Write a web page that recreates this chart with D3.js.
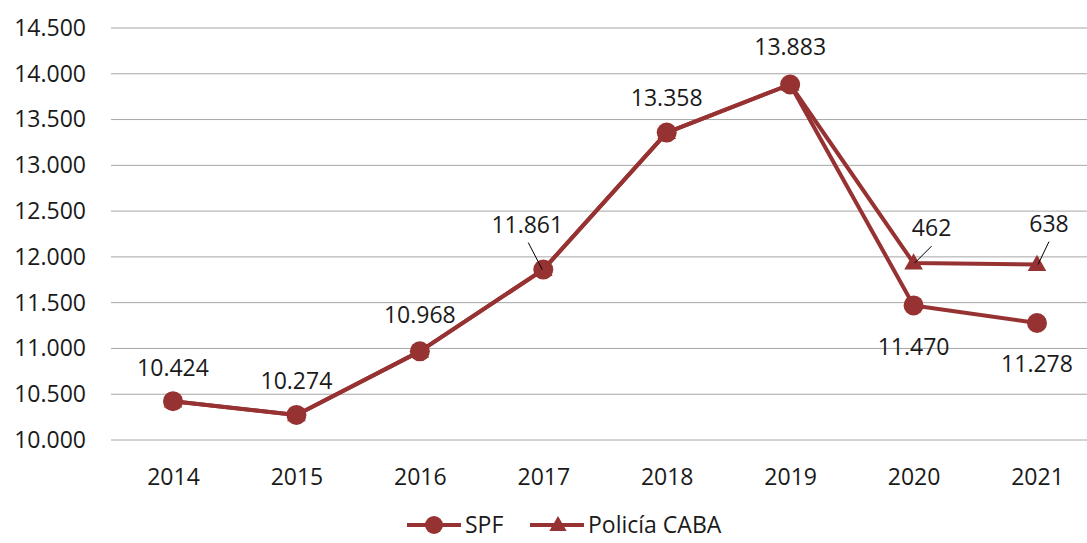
<!DOCTYPE html>
<html>
<head>
<meta charset="utf-8">
<script src="https://cdn.jsdelivr.net/npm/d3@7"></script>
<style>
  body { margin: 0; background: #fff; }
  svg { display: block; font-family: "Open Sans", sans-serif; }
</style>
</head>
<body>
<svg id="chart" width="1087" height="543"></svg>
<script>
// data
const years = ["2014", "2015", "2016", "2017", "2018", "2019", "2020", "2021"];
const spf = [10424, 10274, 10968, 11861, 13358, 13883, 11470, 11278];
const caba = [0, 0, 0, 0, 0, 0, 462, 638];
const yTicks = [10000, 10500, 11000, 11500, 12000, 12500, 13000, 13500, 14000, 14500];
const seriesNames = ["SPF", "Policía CABA"];

const color = "#973232";
const fontSize = 23;

let svg = d3.select("#chart");

let x = d3.scalePoint().domain(years).range([173, 1037]);
let y = d3.scaleLinear().domain([10000, 14500]).range([440, 28]);

let fmt = v => d3.format(",")(v).replace(/,/g, ".");

// gridlines
svg.append("g").selectAll("line")
    .data(yTicks)
    .join("line")
    .attr("x1", 111).attr("x2", 1087)
    .attr("y1", d => y(d)).attr("y2", d => y(d))
    .attr("stroke", "#a6a6a6")
    .attr("stroke-width", 1);

// y axis labels
let yAxis = d3.axisLeft(y).tickValues(yTicks).tickFormat(fmt).tickSize(0).tickPadding(0);
let gy = svg.append("g").attr("transform", "translate(86,0)").call(yAxis);
gy.select(".domain").remove();
gy.selectAll("text").attr("font-size", fontSize).attr("font-family", "Open Sans").attr("fill", "#1a1a1a");

// x axis labels
let xAxis = d3.axisBottom(x).tickSize(0).tickPadding(0);
let gx = svg.append("g").attr("transform", "translate(0,469)").call(xAxis);
gx.select(".domain").remove();
gx.selectAll("text").attr("font-size", fontSize).attr("font-family", "Open Sans").attr("fill", "#1a1a1a");

// stacked total for CABA
let total = spf.map((v, i) => v + caba[i]);

let line = d3.line().x((d, i) => x(years[i])).y(d => y(d));

svg.append("path").datum(total)
    .attr("d", line).attr("fill", "none")
    .attr("stroke", color).attr("stroke-width", 4).attr("stroke-linejoin", "round");

svg.append("g").selectAll("path")
    .data(total)
    .join("path")
    .attr("d", d3.symbol(d3.symbolTriangle, 150))
    .attr("transform", (d, i) => `translate(${x(years[i])},${y(d) + 1})`)
    .attr("fill", color);

svg.append("path").datum(spf)
    .attr("d", line).attr("fill", "none")
    .attr("stroke", color).attr("stroke-width", 4).attr("stroke-linejoin", "round");

svg.append("g").selectAll("circle")
    .data(spf)
    .join("circle")
    .attr("cx", (d, i) => x(years[i]))
    .attr("cy", d => y(d))
    .attr("r", 10)
    .attr("fill", color);

// data labels
const spfDx = [0, 0, 0, -16, 0, 0, 0, 0];
const spfDy = [-25, -26, -28, -37, -27, -29, 50, 49];
svg.append("g").selectAll("text")
    .data(spf)
    .join("text")
    .attr("x", (d, i) => x(years[i]) + spfDx[i])
    .attr("y", (d, i) => y(d) + spfDy[i])
    .attr("text-anchor", "middle")
    .attr("font-size", fontSize)
    .attr("fill", "#1a1a1a")
    .text(d => fmt(d));

// leader for 2017
let i17 = 3;
svg.append("line")
    .attr("x1", x(years[i17]) - 15).attr("y1", y(spf[i17]) - 27)
    .attr("x2", x(years[i17]) - 1).attr("y2", y(spf[i17]))
    .attr("stroke", "#000").attr("stroke-width", 1);

// CABA labels
const cabaDx = [0, 0, 0, 0, 0, 0, 18, 12];
const cabaDy = [0, 0, 0, 0, 0, 0, -27, -33];
let lblIdx = [6, 7];
svg.append("g").selectAll("text")
    .data(lblIdx)
    .join("text")
    .attr("x", i => x(years[i]) + cabaDx[i])
    .attr("y", i => y(total[i]) + cabaDy[i])
    .attr("text-anchor", "middle")
    .attr("font-size", fontSize)
    .attr("fill", "#1a1a1a")
    .text(i => fmt(caba[i]));

svg.append("g").selectAll("line")
    .data(lblIdx)
    .join("line")
    .attr("x1", i => x(years[i]) + cabaDx[i])
    .attr("y1", i => y(total[i]) + cabaDy[i] + 10)
    .attr("x2", i => x(years[i]) + 1)
    .attr("y2", i => y(total[i]))
    .attr("stroke", "#000").attr("stroke-width", 1);

// legend
let legend = svg.append("g").attr("transform", "translate(0,525)");
let lx = [407, 530];
seriesNames.forEach((name, k) => {
    let g = legend.append("g").attr("transform", `translate(${lx[k]},0)`);
    g.append("line").attr("x1", 0).attr("x2", 54).attr("y1", 0).attr("y2", 0)
        .attr("stroke", color).attr("stroke-width", 4);
    if (k === 0) {
        g.append("circle").attr("cx", 27).attr("cy", 0).attr("r", 9).attr("fill", color);
    } else {
        g.append("path").attr("d", d3.symbol(d3.symbolTriangle, 130))
            .attr("transform", "translate(28,1)").attr("fill", color);
    }
    g.append("text").attr("x", 58).attr("y", 8)
        .attr("font-size", fontSize).attr("fill", "#1a1a1a").text(name);
});
</script>
</body>
</html>
